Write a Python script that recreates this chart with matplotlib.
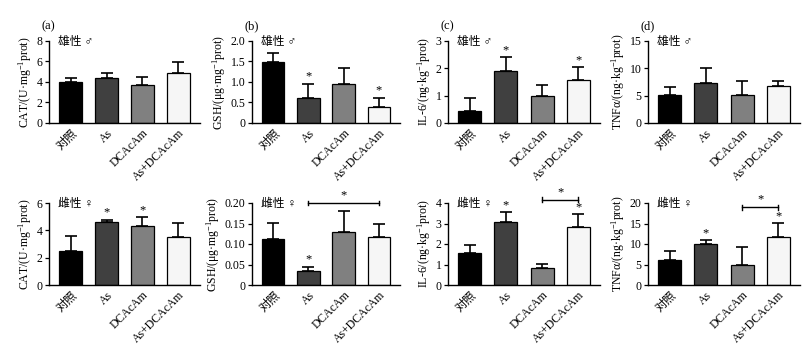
import matplotlib
matplotlib.use("Agg")
import matplotlib.pyplot as plt

plt.rcParams['font.family'] = ['Liberation Serif', 'Noto Sans CJK SC', 'DejaVu Sans']
plt.rcParams['mathtext.fontset'] = 'custom'
plt.rcParams['mathtext.rm'] = 'Liberation Serif'
plt.rcParams['mathtext.it'] = 'Liberation Serif:italic'

groups = ["对照", "As", "DCAcAm", "As+DCAcAm"]
colors = ["#000000", "#404040", "#808080", "#f6f6f6"]

# male
cat_m = [4.03, 4.39, 3.71, 4.9]
cat_m_err = [0.32, 0.45, 0.74, 1.05]
gsh_m = [1.49, 0.60, 0.96, 0.40]
gsh_m_err = [0.22, 0.36, 0.37, 0.22]
il6_m = [0.45, 1.90, 0.97, 1.56]
il6_m_err = [0.46, 0.50, 0.41, 0.50]
tnf_m = [5.2, 7.4, 5.2, 6.7]
tnf_m_err = [1.4, 2.7, 2.5, 1.0]
# female
cat_f = [2.52, 4.62, 4.31, 3.53]
cat_f_err = [1.06, 0.17, 0.63, 1.0]
gsh_f = [0.111, 0.035, 0.130, 0.116]
gsh_f_err = [0.041, 0.010, 0.051, 0.033]
il6_f = [1.54, 3.06, 0.82, 2.82]
il6_f_err = [0.41, 0.51, 0.20, 0.62]
tnf_f = [6.0, 10.1, 5.0, 11.7]
tnf_f_err = [2.2, 0.9, 4.3, 3.4]

panels = [
    # (values, errors, ylabel, yticks, yticklabels, star idx, bracket, panel letter, sex label)
    (cat_m, cat_m_err, "CAT/(U·mg$^{-1}$prot)", [0, 2, 4, 6, 8], ["0", "2", "4", "6", "8"], [], None, "(a)", "雄性 ♂"),
    (gsh_m, gsh_m_err, "GSH/(μg·mg$^{-1}$prot)", [0, 0.5, 1.0, 1.5, 2.0], ["0", "0.5", "1.0", "1.5", "2.0"], [1, 3], None, "(b)", "雄性 ♂"),
    (il6_m, il6_m_err, "IL-6/(ng·kg$^{-1}$prot)", [0, 1, 2, 3], ["0", "1", "2", "3"], [1, 3], None, "(c)", "雄性 ♂"),
    (tnf_m, tnf_m_err, "TNFα/(ng·kg$^{-1}$prot)", [0, 5, 10, 15], ["0", "5", "10", "15"], [], None, "(d)", "雄性 ♂"),
    (cat_f, cat_f_err, "CAT/(U·mg$^{-1}$prot)", [0, 2, 4, 6], ["0", "2", "4", "6"], [1, 2], None, None, "雌性 ♀"),
    (gsh_f, gsh_f_err, "GSH/(μg·mg$^{-1}$prot)", [0, 0.05, 0.10, 0.15, 0.20], ["0", "0.05", "0.10", "0.15", "0.20"], [1], (1, 3, 0.20), None, "雌性 ♀"),
    (il6_f, il6_f_err, "IL-6/(ng·kg$^{-1}$prot)", [0, 1, 2, 3, 4], ["0", "1", "2", "3", "4"], [1, 3], (2, 3, 4.15), None, "雌性 ♀"),
    (tnf_f, tnf_f_err, "TNFα/(ng·kg$^{-1}$prot)", [0, 5, 10, 15, 20], ["0", "5", "10", "15", "20"], [1, 3], (2, 3, 19.0), None, "雌性 ♀"),
]

W, H = 812, 358
fig = plt.figure(figsize=(W / 100, H / 100), dpi=100)

lefts = [49, 252, 448, 648]
widths = [151, 148, 152, 152]
tops = [41, 203]
height = 82

for i, (vals, errs, ylab, yt, ytl, stars, bracket, letter, sex) in enumerate(panels):
    r, c = divmod(i, 4)
    ax = fig.add_axes([lefts[c] / W, 1 - (tops[r] + height) / H, widths[c] / W, height / H])
    x = list(range(len(groups)))
    ax.bar(x, vals, width=0.64, color=colors, edgecolor="black", linewidth=0.9, zorder=2)
    ax.errorbar(x, vals, yerr=[[0] * 4, errs], fmt="none", ecolor="black",
                elinewidth=1.2, capsize=4.5, capthick=1.2, zorder=1)
    ax.set_xlim(-0.6, 3.6)
    ax.set_ylim(yt[0], yt[-1])
    ax.set_yticks(yt)
    ax.set_yticklabels(ytl, fontsize=8.5)
    ax.set_xticks(x)
    ax.set_xticklabels(groups, rotation=45, ha="right", rotation_mode="anchor", fontsize=8.5)
    ax.tick_params(axis="x", length=0, pad=3)
    ax.tick_params(axis="y", length=3, width=0.9, direction="out", pad=1.5)
    for s in ["top", "right"]:
        ax.spines[s].set_visible(False)
    for s in ["left", "bottom"]:
        ax.spines[s].set_linewidth(1.0)
    ax.set_ylabel(ylab, fontsize=8.5, labelpad=2)
    ymax = yt[-1]
    for k in stars:
        ax.text(k, vals[k] + errs[k] + ymax * 0.01, "*", ha="center", va="bottom", fontsize=9)
    if bracket is not None:
        a, b, y = bracket
        t = ymax * 0.03
        ax.plot([a, b], [y, y], color="black", lw=1.0, clip_on=False)
        ax.plot([a, a], [y - t, y + t], color="black", lw=1.0, clip_on=False)
        ax.plot([b, b], [y - t, y + t], color="black", lw=1.0, clip_on=False)
        ax.text((a + b) / 2, y + ymax * 0.02, "*", ha="center", va="bottom", fontsize=9, clip_on=False)
    ax.text(0.06, 0.99, sex, transform=ax.transAxes, ha="left", va="center", fontsize=8.5)
    if letter:
        ax.text(-0.05, 1.18, letter, transform=ax.transAxes, ha="left", va="center", fontsize=9)

fig.savefig("out.png", dpi=100)
